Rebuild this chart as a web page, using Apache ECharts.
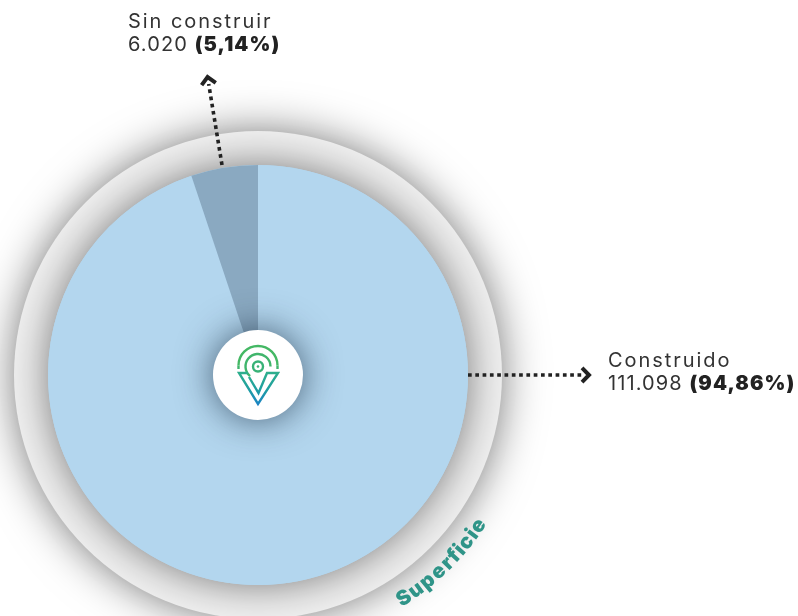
<!DOCTYPE html>
<html><head><meta charset="utf-8">
<style>html,body{margin:0;padding:0;background:#fff}#c{width:798px;height:616px}</style>
<script src="https://cdn.jsdelivr.net/npm/echarts@6/dist/echarts.min.js"></script>
</head><body><div id="c"></div>
<script>
const categories=['Construido','Sin construir'];
const values=[111098,6020];
const valueLabels=['111.098','6.020'];
const percentLabels=['(94,86%)','(5,14%)'];
const sliceColors=['#b3d6ee','#8aa9c1'];
const ringTitle='Superficie';

// wide tracking for the multi-character labels
const P=CanvasRenderingContext2D.prototype,oF=P.fillText,oM=P.measureText;
function track(c,t){
  if(!('letterSpacing' in c)) return;
  const s=String(t);
  c.letterSpacing=s.length<2?'0px':(categories.includes(s)?'1.95px':'1.1px');
}
P.fillText=function(t,x,y,m){track(this,t);return m===undefined?oF.call(this,t,x,y):oF.call(this,t,x,y,m);};
P.measureText=function(t){track(this,t);return oM.call(this,t);};

const cx=258,cy=375;
const chart=echarts.init(document.getElementById('c'),null,{renderer:'canvas'});
const font='"Inter","Noto Sans",sans-serif';
const ink='#222222';
function label(x,y,name,val,pct){
  return {type:'text',x,y,z:20,style:{
    text:`{a|${name}}\n{a|${val} }{b|${pct}}`,
    rich:{a:{fontFamily:font,fontSize:20,lineHeight:23,fill:'#333333',fontWeight:400},
          b:{fontFamily:font,fontSize:20,lineHeight:23,fill:ink,fontWeight:900}},
    textFill:ink}};
}
const graphics=[];
function arrow(x1,y1,x2,y2){
  const ang=Math.atan2(y2-y1,x2-x1);
  graphics.push({type:'line',z:20,shape:{x1,y1,x2,y2},style:{stroke:ink,lineWidth:3.6,lineDash:[3.7,3.6]}});
  const s=10,ex=x2+Math.cos(ang)*7,ey=y2+Math.sin(ang)*7;
  graphics.push({type:'polyline',z:20,shape:{points:[
    [ex-s*Math.cos(ang-0.8),ey-s*Math.sin(ang-0.8)],[ex,ey],[ex-s*Math.cos(ang+0.8),ey-s*Math.sin(ang+0.8)]]},
    style:{stroke:ink,lineWidth:4,fill:null,lineJoin:'miter'}});
}
arrow(468,375,582,375);
arrow(222,165,208.7,84);
graphics.push(label(608,349,categories[0],valueLabels[0],percentLabels[0]));
graphics.push(label(128,10,categories[1],valueLabels[1],percentLabels[1]));
// curved ring title
const stepDeg=[3.1,3.1,3.1,2.7,2.1,1.8,2.1,2.2,2.2];
let deg=56.8;
ringTitle.split('').forEach((ch,i)=>{
  const r=267, a=deg*Math.PI/180;
  graphics.push({type:'text',z:20,x:cx+r*Math.cos(a),y:cy+r*Math.sin(a),rotation:(90-deg)*Math.PI/180,
    style:{text:ch,fontFamily:font,fontSize:20.5,fontWeight:900,fill:'#2f9488',align:'center',verticalAlign:'middle'}});
  if(i<stepDeg.length) deg-=stepDeg[i];
});
// logo
const g=new echarts.graphic.LinearGradient(0,0,0,1,[{offset:0,color:'#2fb08a'},{offset:.5,color:'#1fa0a0'},{offset:1,color:'#1a80c8'}]);
const lw=2.4;
graphics.push({type:'group',z:30,children:[
  {type:'arc',z:30,shape:{cx:258,cy:365.5,r:19.5,startAngle:Math.PI,endAngle:0,clockwise:true},style:{stroke:'#44b864',fill:null,lineWidth:lw}},
  {type:'line',z:30,shape:{x1:238.5,y1:365.5,x2:238.5,y2:369},style:{stroke:'#40b56c',lineWidth:lw}},
  {type:'line',z:30,shape:{x1:277.5,y1:365.5,x2:277.5,y2:369},style:{stroke:'#40b56c',lineWidth:lw}},
  {type:'arc',z:30,shape:{cx:258,cy:366.5,r:12.5,startAngle:Math.PI*0.72,endAngle:0,clockwise:true},style:{stroke:'#40b56c',fill:null,lineWidth:lw}},
  {type:'circle',z:30,shape:{cx:258,cy:366.5,r:5},style:{stroke:'#38b277',fill:null,lineWidth:lw}},
  {type:'circle',z:30,shape:{cx:258,cy:366.5,r:1.3},style:{fill:'#38b277'}},
  {type:'polyline',z:30,shape:{points:[[248,373],[239,373],[258,404],[278,373],[267,373],[258.5,393],[249,377]]},style:{stroke:g,fill:null,lineWidth:lw}}
]});
const one=[{value:1}];
chart.setOption({
  animation:false,
  backgroundColor:'#ffffff',
  graphic:{elements:graphics},
  series:[
    {type:'pie',silent:true,z:1,center:[cx,cy],radius:[0,244],startAngle:90,label:{show:false},data:one,
     itemStyle:{color:'#f0f0f0',shadowBlur:44,shadowColor:'rgba(0,0,0,0.5)'}},
    {type:'pie',silent:true,z:2,center:[cx,cy],radius:[0,210],startAngle:90,label:{show:false},data:one,
     itemStyle:{color:'#b3d6ee',shadowBlur:40,shadowColor:'rgba(0,0,0,0.5)'}},
    {type:'pie',silent:true,z:3,center:[cx,cy],radius:[0,210],startAngle:90,clockwise:true,label:{show:false},labelLine:{show:false},
     data:categories.map((n,i)=>({name:n,value:values[i],itemStyle:{color:sliceColors[i]}}))},
    {type:'pie',silent:true,z:4,center:[cx,cy],radius:[0,45],startAngle:90,label:{show:false},data:one,
     itemStyle:{color:'#ffffff',shadowBlur:36,shadowColor:'rgba(20,40,60,0.7)'}}
  ]
});
</script></body></html>
